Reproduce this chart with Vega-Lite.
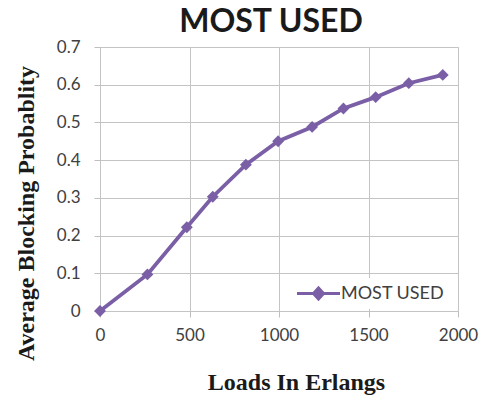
{
  "$schema": "https://vega.github.io/schema/vega-lite/v6.json",
  "width": 358,
  "height": 264,
  "autosize": {"type": "none"},
  "padding": {"left": 100, "top": 47, "right": 22, "bottom": 87},
  "background": "white",
  "title": {
    "text": "MOST USED",
    "font": "Lato",
    "fontSize": 32,
    "fontWeight": "bold",
    "color": "#1a1a1a",
    "anchor": "middle",
    "baseline": "alphabetic",
    "dx": -8,
    "dy": 30,
    "offset": 4
  },
  "data": {
    "values": [
      {"load": 0, "prob": 0.0, "series": "MOST USED"},
      {"load": 265, "prob": 0.097, "series": "MOST USED"},
      {"load": 485, "prob": 0.222, "series": "MOST USED"},
      {"load": 630, "prob": 0.303, "series": "MOST USED"},
      {"load": 815, "prob": 0.388, "series": "MOST USED"},
      {"load": 995, "prob": 0.45, "series": "MOST USED"},
      {"load": 1185, "prob": 0.488, "series": "MOST USED"},
      {"load": 1360, "prob": 0.537, "series": "MOST USED"},
      {"load": 1540, "prob": 0.567, "series": "MOST USED"},
      {"load": 1725, "prob": 0.604, "series": "MOST USED"},
      {"load": 1915, "prob": 0.626, "series": "MOST USED"}
    ]
  },
  "mark": {
    "type": "line",
    "strokeWidth": 3.8,
    "point": {"filled": true, "shape": "diamond", "size": 140, "opacity": 1}
  },
  "encoding": {
    "x": {
      "field": "load",
      "type": "quantitative",
      "scale": {"domain": [0, 2000], "nice": false},
      "axis": {
        "values": [0, 500, 1000, 1500, 2000],
        "format": "d",
        "labelFlush": false,
        "title": "Loads In Erlangs",
        "titleFont": "Liberation Serif",
        "titleFontSize": 24,
        "titleFontWeight": "bold",
        "titleColor": "#1a1a1a",
        "titleX": 196,
        "titleY": 71,
        "titleAlign": "center",
        "titleBaseline": "middle",
        "labelFont": "Lato",
        "labelFontSize": 17,
        "labelColor": "#404040",
        "labelPadding": 10,
        "tickSize": 6,
        "tickColor": "#bfbfbf",
        "domain": false,
        "grid": true,
        "gridColor": "#c4c4c4"
      }
    },
    "y": {
      "field": "prob",
      "type": "quantitative",
      "scale": {"domain": [0, 0.7], "nice": false},
      "axis": {
        "values": [0, 0.1, 0.2, 0.3, 0.4, 0.5, 0.6, 0.7],
        "labelExpr": "datum.value == 0 ? '0' : format(datum.value, '.1f')",
        "labelFlush": false,
        "title": "Average Blocking Probablity",
        "titleFont": "Liberation Serif",
        "titleFontSize": 24,
        "titleFontWeight": "bold",
        "titleColor": "#1a1a1a",
        "titleAngle": -90,
        "titleX": -74,
        "titleY": 166,
        "titleAlign": "center",
        "titleBaseline": "middle",
        "labelFont": "Lato",
        "labelFontSize": 17,
        "labelColor": "#404040",
        "labelPadding": 14,
        "tickSize": 6,
        "tickColor": "#bfbfbf",
        "domain": false,
        "grid": true,
        "gridColor": "#c4c4c4"
      }
    },
    "color": {
      "field": "series",
      "type": "nominal",
      "scale": {"domain": ["MOST USED"], "range": ["#7b5fa6"]},
      "legend": {
        "title": null,
        "orient": "none",
        "legendX": 203,
        "legendY": 231,
        "padding": 4,
        "fillColor": "white",
        "symbolType": "M-2.15,0H2.15M-0.5,0L0,-0.55L0.5,0L0,0.55Z",
        "symbolSize": 400,
        "symbolStrokeWidth": 3,
        "labelOffset": 11,
        "labelFont": "Lato",
        "labelFontSize": 18,
        "labelColor": "#404040",
        "encode": {
          "symbols": {
            "update": {
              "fill": {"value": "#7b5fa6"},
              "stroke": {"value": "#7b5fa6"},
              "strokeWidth": {"value": 3},
              "opacity": {"value": 1}
            }
          }
        }
      }
    }
  }
}
